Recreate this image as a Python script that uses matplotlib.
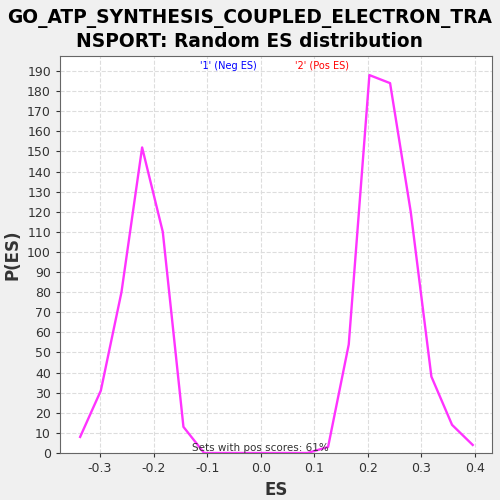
import matplotlib
matplotlib.use("Agg")
import matplotlib.pyplot as plt
import numpy as np

title = "GO_ATP_SYNTHESIS_COUPLED_ELECTRON_TRA\nNSPORT: Random ES distribution"
es = np.linspace(-0.337, 0.396, 20)
p_es = [8, 31, 80, 152, 110, 13, 0, 0, 0, 0, 0, 0, 3, 54, 188, 184, 120, 38, 14, 4]
xticks = [-0.3, -0.2, -0.1, 0.0, 0.1, 0.2, 0.3, 0.4]
yticks = list(range(0, 200, 10))

fig = plt.figure(figsize=(5, 5), dpi=100, facecolor="#f0f0f0")
ax = fig.add_axes([0.12, 0.094, 0.864, 0.794])
ax.set_facecolor("white")

ax.plot(es, p_es, color="#ff33ff", lw=1.7)

ax.set_xlim(-0.3746, 0.432)
ax.set_ylim(0, 197.5)
ax.set_xticks(xticks)
ax.set_xticklabels(["%.1f" % t for t in xticks])
ax.set_yticks(yticks)
ax.tick_params(labelsize=9, colors="#333333", length=3)
ax.grid(True, color="#dddddd", ls="--", lw=0.8)
for s in ax.spines.values():
    s.set_color("#666666")

ax.set_xlabel("ES", fontsize=12, fontweight="bold", color="#333333")
ax.set_ylabel("P(ES)", fontsize=12, fontweight="bold", color="#333333")
fig.suptitle(title, fontsize=13.4, fontweight="bold", y=0.983, linespacing=1.3)

ax.text(0.39, 0.975, "'1' (Neg ES)", transform=ax.transAxes, color="blue",
        fontsize=7, ha="center", va="center")
ax.text(0.607, 0.975, "'2' (Pos ES)", transform=ax.transAxes, color="red",
        fontsize=7, ha="center", va="center")
ax.text(0.0, 0, "Sets with pos scores: 61%", fontsize=7.5, color="#333333",
        ha="center", va="bottom")

fig.savefig("out.png", dpi=100, facecolor=fig.get_facecolor())
